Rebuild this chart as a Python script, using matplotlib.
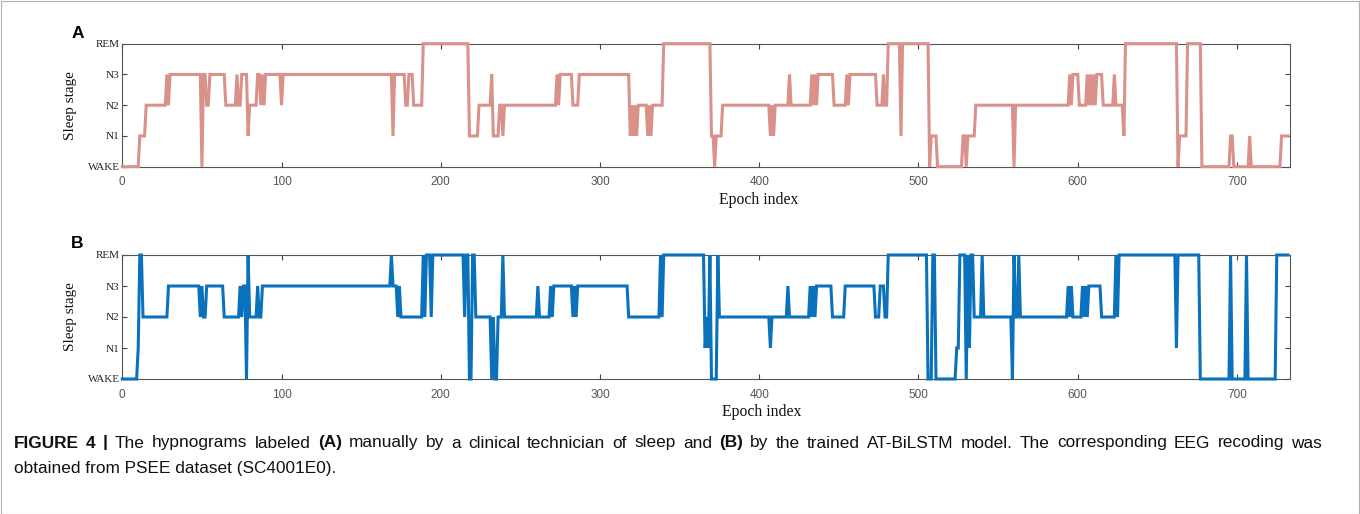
import numpy as np
import matplotlib
matplotlib.use("Agg")
import matplotlib.pyplot as plt
from matplotlib.patches import Rectangle

# ---------------- data ----------------
stage_labels = ["WAKE", "N1", "N2", "N3", "REM"]
n_epochs = 733
x_ticks = [0, 100, 200, 300, 400, 500, 600, 700]

# Panel A (manual labels): epoch where a new stage starts, and that stage (0=WAKE..4=REM)
a_change_epochs = [0, 11, 15, 28, 29, 30, 50, 51, 53, 55, 65, 72, 73, 75, 79, 80, 85, 87, 88, 89,
                   90, 100, 101, 170, 171, 178, 180, 183, 189, 218, 224, 232, 233, 237, 239, 240,
                   273, 274, 275, 283, 287, 319, 320, 321, 322, 323, 324, 330, 331, 332, 333, 340,
                   370, 372, 373, 377, 407, 408, 409, 410, 419, 420, 433, 434, 435, 436, 437, 447,
                   455, 456, 457, 474, 478, 479, 481, 489, 490, 507, 508, 512, 528, 530, 531, 536,
                   560, 561, 595, 596, 597, 601, 606, 607, 608, 609, 610, 611, 612, 616, 623, 624,
                   629, 630, 663, 664, 669, 678, 696, 698, 708, 709, 728]
a_change_stages = [0, 1, 2, 3, 2, 3, 0, 3, 2, 3, 2, 3, 2, 3, 1, 2, 3, 2, 3, 2,
                   3, 2, 3, 1, 3, 2, 3, 2, 4, 1, 2, 3, 1, 2, 1, 2,
                   3, 2, 3, 2, 3, 1, 2, 1, 2, 1, 2, 1, 2, 1, 2, 4,
                   1, 0, 1, 2, 1, 2, 1, 2, 3, 2, 3, 2, 3, 2, 3, 2,
                   3, 2, 3, 2, 3, 2, 4, 1, 4, 0, 1, 0, 1, 0, 1, 2,
                   0, 2, 3, 2, 3, 2, 3, 2, 3, 2, 3, 2, 3, 2, 3, 2,
                   1, 4, 0, 1, 4, 0, 1, 0, 1, 0, 1]

# Panel B (AT-BiLSTM predictions)
b_change_epochs = [0, 10, 11, 13, 29, 49, 50, 51, 53, 64, 74, 75, 76, 78, 79, 80, 85, 86, 88,
                   169, 170, 173, 174, 175, 189, 190, 191, 194, 195, 215, 216, 218, 220, 222,
                   232, 233, 234, 236, 239, 240, 261, 262, 269, 270, 271, 283, 284, 285, 286,
                   318, 338, 339, 340, 366, 367, 368, 369, 370, 374, 375, 376, 407, 408, 418, 419,
                   432, 433, 434, 435, 436, 446, 454, 473, 476, 479, 481, 506, 509, 511, 524, 526,
                   530, 531, 532, 533, 535, 540, 541, 559, 560, 561, 563, 564, 594, 595, 596, 597,
                   603, 604, 605, 606, 607, 608, 615, 624, 625, 626, 662, 663, 677, 696, 697, 706,
                   707, 725]
b_change_stages = [0, 1, 4, 2, 3, 2, 3, 2, 3, 2, 3, 2, 3, 0, 4, 2, 3, 2, 3,
                   4, 3, 2, 3, 2, 4, 2, 4, 2, 4, 2, 4, 0, 4, 2,
                   0, 2, 0, 2, 4, 2, 3, 2, 3, 2, 3, 2, 3, 2, 3,
                   2, 4, 2, 4, 1, 2, 1, 4, 0, 4, 2, 2, 1, 2, 3, 2,
                   3, 2, 3, 2, 3, 2, 3, 2, 3, 2, 4, 0, 4, 0, 1, 4,
                   0, 4, 1, 4, 2, 4, 2, 0, 4, 2, 4, 2, 3, 2, 3, 2,
                   3, 2, 3, 2, 3, 3, 2, 4, 2, 4, 1, 4, 0, 4, 0, 4,
                   0, 4]

caption_pieces = [
    ("FIGURE 4 |", "bold"), ("The hypnograms labeled", "normal"), ("(A)", "bold"),
    ("manually by a clinical technician of sleep and", "normal"), ("(B)", "bold"),
    ("by the trained AT-BiLSTM model. The corresponding EEG recoding was", "normal"),
]
caption_line2 = "obtained from PSEE dataset (SC4001E0)."


def expand(change_epochs, change_stages, n):
    idx = np.searchsorted(change_epochs, np.arange(n), side="right") - 1
    return np.asarray(change_stages)[idx]


stages_a = expand(a_change_epochs, a_change_stages, n_epochs)
stages_b = expand(b_change_epochs, b_change_stages, n_epochs)
epochs = np.arange(n_epochs)

# ---------------- figure ----------------
W, H = 1360, 514
fig = plt.figure(figsize=(W / 100, H / 100), dpi=100)
fig.patches.append(Rectangle((0.5 / W, 0.5 / H), 1 - 1.5 / W, 1 - 1.5 / H, transform=fig.transFigure,
                             fill=False, edgecolor="#b0b0b0", linewidth=0.8))

serif = "Liberation Serif"
sans = "Liberation Sans"


def make_axes(rect, y, color, xlabel_y, xlabel_x):
    ax = fig.add_axes(rect)
    ax.plot(epochs, y, color=color, linewidth=2.2, clip_on=False, zorder=3,
            solid_joinstyle="miter")
    ax.set_xlim(0, n_epochs)
    ax.set_ylim(0, 4)
    ax.set_yticks(range(5))
    ax.set_yticklabels(stage_labels, fontfamily=serif, fontsize=8, color="#222222")
    ax.set_xticks(x_ticks)
    ax.set_xticklabels([str(t) for t in x_ticks], fontfamily=sans, fontsize=8.5, color="#555555")
    ax.tick_params(direction="in", length=3.5, width=0.8, color="#444444",
                   top=True, right=True)
    ax.tick_params(axis="x", pad=7)
    ax.tick_params(axis="y", pad=2)
    for s in ax.spines.values():
        s.set_color("#555555")
        s.set_linewidth(0.8)
    ax.set_ylabel("Sleep stage", fontfamily=serif, fontsize=11, color="#111111")
    ax.yaxis.set_label_coords(-0.039, 0.5)
    ax.set_xlabel("Epoch index", fontfamily=serif, fontsize=11.3, color="#111111")
    ax.xaxis.set_label_coords(xlabel_x, xlabel_y)
    ax.xaxis.label.set_va("center")
    return ax


axl, axr = 122.3, 1289.5
ax_a = make_axes([axl / W, 1 - 166.7 / H, (axr - axl) / W, (166.7 - 43.7) / H],
                 stages_a, "#d9918a", -0.27, 0.545)
ax_b = make_axes([axl / W, 1 - 379 / H, (axr - axl) / W, (379 - 255) / H],
                 stages_b, "#0a72bd", -0.265, 0.548)

fig.text(78 / W, 1 - 33 / H, "A", fontfamily=sans, fontweight="bold", fontsize=12.5,
         ha="center", va="center")
fig.text(77 / W, 1 - 243 / H, "B", fontfamily=sans, fontweight="bold", fontsize=12.5,
         ha="center", va="center")

# caption: first line justified between x=14 and x=1322, second line natural
fig.canvas.draw()
renderer = fig.canvas.get_renderer()
cap_size = 12.4
left_px, right_px = 14.0, 1322.0
words = []
for piece, wt in caption_pieces:
    for w in piece.split(" "):
        words.append((w, wt))
texts = []
widths = []
for w, wt in words:
    t = fig.text(0, 1 - 443 / H, w, fontfamily=sans, fontweight=wt, fontsize=cap_size,
                 ha="left", va="center", color="#111111")
    texts.append(t)
    widths.append(t.get_window_extent(renderer=renderer).width)
gap = (right_px - left_px - sum(widths)) / (len(words) - 1)
x = left_px
for t, wd in zip(texts, widths):
    t.set_x(x / W)
    x += wd + gap
fig.text(left_px / W, 1 - 468 / H, caption_line2, fontfamily=sans, fontsize=cap_size,
         ha="left", va="center", color="#111111")

fig.savefig("out.png", dpi=100)
